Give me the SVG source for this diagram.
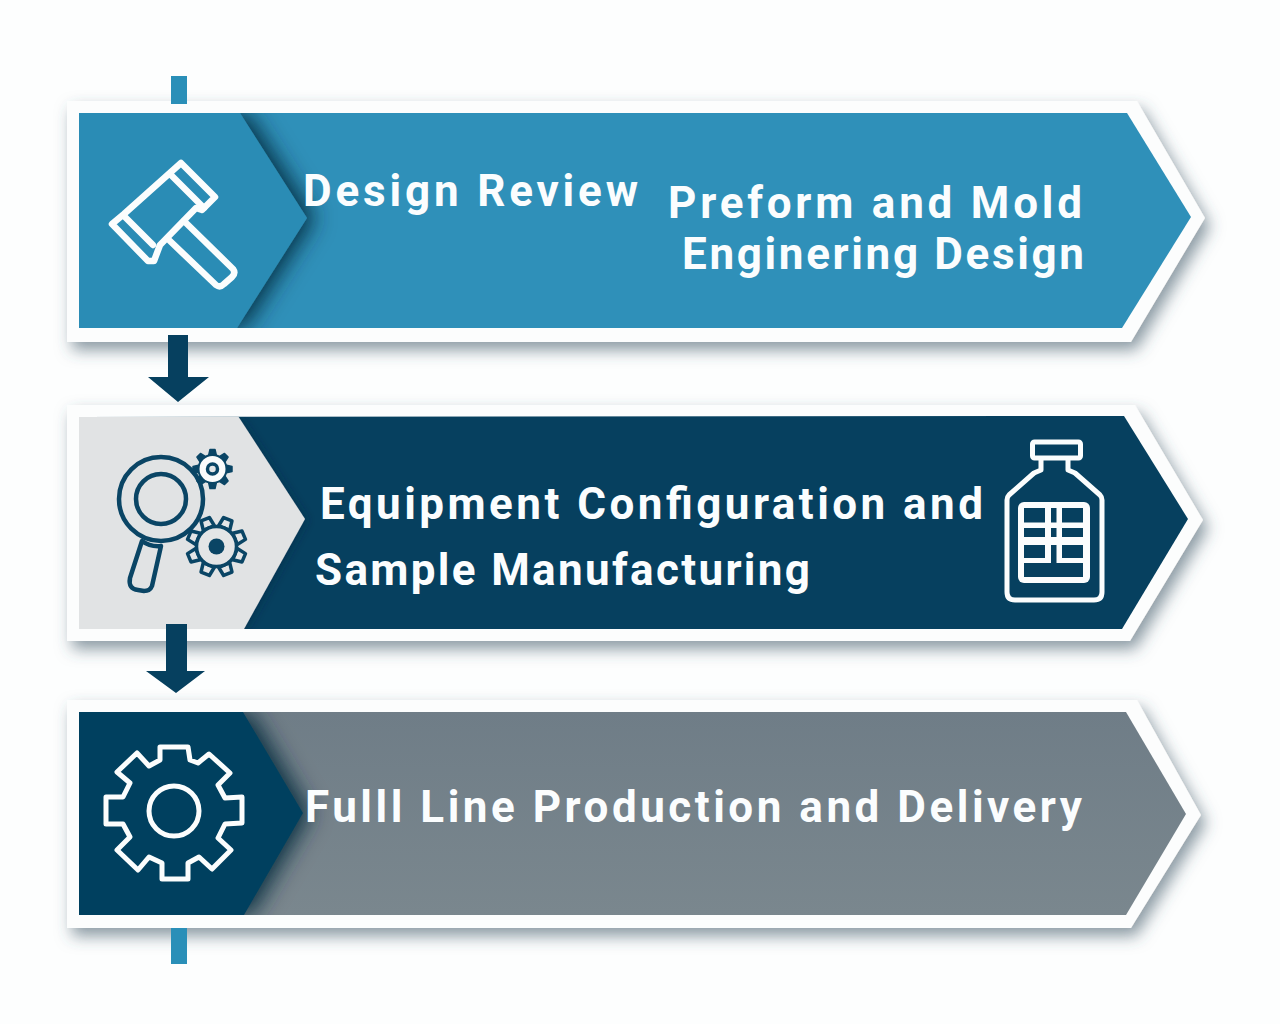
<svg xmlns="http://www.w3.org/2000/svg" xmlns:xlink="http://www.w3.org/1999/xlink" width="1280" height="1024" viewBox="0 0 1280 1024">
<style>
.t{font-family:Roboto,"Noto Sans","Liberation Sans",sans-serif;font-weight:700;font-size:44px;fill:#fbfdfe}
.w{fill:none;stroke:#fbfdfd;stroke-width:6.500;stroke-linejoin:round;stroke-linecap:round}
.d{fill:none;stroke:#0a4565;stroke-width:4.500;stroke-linejoin:round;stroke-linecap:round}
.frame{fill:#fcfdfd;filter:url(#fs)}
.lt{fill:#2a8fb8}.dk{fill:#06405f}
</style>
<defs>
<filter id="fs" x="-5%" y="-15%" width="112%" height="140%"><feDropShadow dx="5" dy="8" stdDeviation="8" flood-color="#3d5666" flood-opacity=".6"/></filter>
<filter id="cs" x="-20%" y="-20%" width="160%" height="140%"><feDropShadow dx="8" dy="0" stdDeviation="11" flood-color="#04263a" flood-opacity=".9"/></filter>
<filter id="cs2" x="-20%" y="-20%" width="150%" height="140%"><feDropShadow dx="3" dy="1" stdDeviation="4" flood-color="#052a40" flood-opacity=".4"/></filter>
<linearGradient id="g3" x1="0" y1="0" x2="0" y2="1"><stop offset="0" stop-color="#6f7d87"/><stop offset="1" stop-color="#7a878e"/></linearGradient>
<clipPath id="c1"><path d="M79 113H1127L1191 217L1122 328H79Z"/></clipPath>
<clipPath id="c2"><path d="M79 417L1124 416L1188 519L1122 629H79Z"/></clipPath>
<clipPath id="c3"><path d="M79 712H1126L1186 814L1126 915H79Z"/></clipPath>
<path id="tb" d="M-6 -20L-4.500 -29.500L4.500 -29.500L6 -20Z" fill="#e3e5e6" stroke="#0a4565" stroke-width="3.500" stroke-linejoin="round"/>
<path id="ts" d="M-4 -13L-2.500 -19.500L2.500 -19.500L4 -13Z" fill="#0a4565" stroke="#0a4565" stroke-width="1.500" stroke-linejoin="round"/>
</defs>
<rect width="1280" height="1024" fill="#fdfefe"/>

<g id="node-design-review">
<path class="frame" d="M67 101H1137L1205 218L1131 342H67Z"/>
<path d="M79 113H1127L1191 217L1122 328H79Z" fill="#2f90b9"/>
<g clip-path="url(#c1)"><path d="M79 113H240L307 218L237 328H79Z" fill="#2c8cb5" filter="url(#cs)"/></g>
<path class="w" d="M181 163L215 197L202 210L196 208L160 245L154 261L148 261L112 224L124 214Z"/>
<path class="w" d="M171 175L204 208M124 216L153 245M184 221L233 269Q236 273 232 277L224 284Q220 288 216 285L170 241"/>
<text class="t" x="303" y="206" textLength="335" lengthAdjust="spacing">Design Review</text>
<text class="t" x="668" y="218" textLength="414" lengthAdjust="spacing">Preform and Mold</text>
<text class="t" x="682" y="269" textLength="402" lengthAdjust="spacing">Enginering Design</text>
</g>

<g id="node-equipment">
<path class="frame" d="M67 405H1135L1203 520L1130 641H67Z"/>
<path d="M79 417L1124 416L1188 519L1122 629H79Z" fill="#06405f"/>
<g clip-path="url(#c2)"><path d="M79 417L238 416L305 519L244 629H79Z" fill="#e1e3e4" filter="url(#cs2)"/></g>
<circle class="d" cx="161" cy="499" r="42"/>
<circle class="d" cx="161" cy="499" r="25"/>
<path class="d" d="M142 541L130 578Q128 589 138 590L144 591Q150 591 152 586L161 546M142 541Q150 547 161 546"/>
<g transform="translate(212.500 469)">
<use xlink:href="#ts"/><use xlink:href="#ts" transform="rotate(45)"/><use xlink:href="#ts" transform="rotate(90)"/><use xlink:href="#ts" transform="rotate(135)"/><use xlink:href="#ts" transform="rotate(180)"/><use xlink:href="#ts" transform="rotate(225)"/><use xlink:href="#ts" transform="rotate(270)"/><use xlink:href="#ts" transform="rotate(315)"/>
<circle r="14" fill="#fafbfb" stroke="#0a4565" stroke-width="2"/>
<circle r="5" fill="#e3e5e6" stroke="#0a4565" stroke-width="3.500"/>
</g>
<g transform="translate(216.500 546.500)">
<g transform="rotate(22.500)"><use xlink:href="#tb"/><use xlink:href="#tb" transform="rotate(45)"/><use xlink:href="#tb" transform="rotate(90)"/><use xlink:href="#tb" transform="rotate(135)"/><use xlink:href="#tb" transform="rotate(180)"/><use xlink:href="#tb" transform="rotate(225)"/><use xlink:href="#tb" transform="rotate(270)"/><use xlink:href="#tb" transform="rotate(315)"/></g>
<circle r="20" fill="#e3e5e6" stroke="#0a4565" stroke-width="3.500"/>
<circle r="8" fill="#0a4565"/>
</g>
<text class="t" x="320" y="519" textLength="663" lengthAdjust="spacing">Equipment Configuration and</text>
<text class="t" x="315" y="585" textLength="495" lengthAdjust="spacing">Sample Manufacturing</text>
<rect class="w" x="1032.500" y="442" width="48" height="16" rx="2" style="stroke-width:5"/>
<path class="w" d="M1041 459V470L1034 473L1009 495Q1007 497 1007 500V592Q1007 600 1015 600H1094Q1102 600 1102 592V500Q1102 497 1100 495L1075 473L1068 470V459" style="stroke-width:5"/>
<rect x="1018" y="502" width="72" height="81" rx="6" fill="#fbfdfd"/>
<g class="dk">
<rect x="1024" y="508" width="21" height="14.500"/><rect x="1024" y="528" width="21" height="9"/><rect x="1024" y="545" width="21" height="13"/>
<rect x="1062" y="508" width="21" height="14.500"/><rect x="1062" y="528" width="21" height="9"/><rect x="1062" y="545" width="21" height="13"/>
<rect x="1051" y="508" width="5.500" height="14.500"/><rect x="1051" y="528" width="5.500" height="9"/>
<path d="M1051 545H1056.500V563H1083V577H1024V563H1051Z"/>
</g>
</g>

<g id="node-production">
<path class="frame" d="M67 700H1137L1201 815L1131 928H67Z"/>
<path d="M79 712H1126L1186 814L1126 915H79Z" fill="url(#g3)"/>
<g clip-path="url(#c3)"><path d="M79 712H243L303 813L244 915H79Z" fill="#06405f" filter="url(#cs)"/></g>
<path class="w" style="stroke-width:5" d="M160 747H188L190 760L198 763L209 754L230 773L218 785L225 798L242 797V823L225 824L218 838L231 850L212 869L199 857L188 863V879H162V863L149 857L138 870L117 850L130 837L123 824H106V797H123L130 783L117 772L137 753L149 766L160 760Z"/>
<circle class="w" style="stroke-width:5" cx="174" cy="811" r="25"/>
<text class="t" x="305" y="822" textLength="777" lengthAdjust="spacing">Fulll Line Production and Delivery</text>
</g>

<g id="connectors">
<rect class="lt" x="171" y="76" width="16" height="28"/>
<path class="dk" d="M168 335H188V377H209L178 402L148 377H168Z"/>
<path class="dk" d="M166 624H187V671H205L176 693L146 671H166Z"/>
<rect class="lt" x="171" y="928" width="16" height="36"/>
</g>
</svg>
